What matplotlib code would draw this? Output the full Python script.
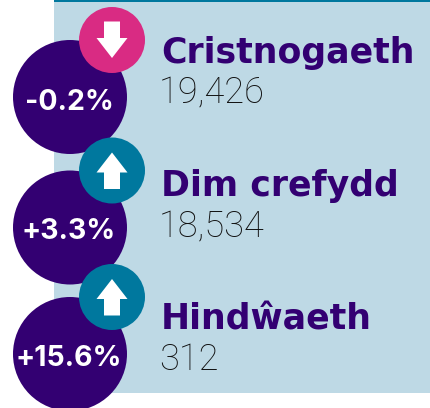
import matplotlib as mpl
mpl.use('Agg')
from matplotlib import pyplot as plt
from matplotlib.patches import Circle, Polygon, Rectangle

categories = ['Cristnogaeth', 'Dim crefydd', 'Hindŵaeth']
counts = ['19,426', '18,534', '312']
changes = ['-0.2%', '+3.3%', '+15.6%']
directions = ['down', 'up', 'up']

big_y = [97, 227.5, 354]
small_y = [40, 170.5, 297]
change_y = [110, 239, 366]
name_y = [62.5, 196, 330]
count_y = [103, 237, 370]

PURPLE = '#330072'
PINK = '#d92b83'
TEAL = '#00789e'
PANEL = '#bed9e5'
DARK = '#111111'

fig = plt.figure(figsize=(4.30, 4.08), dpi=100)
ax = fig.add_axes([0, 0, 1, 1])
ax.set_xlim(0, 430)
ax.set_ylim(408, 0)
ax.axis('off')

ax.add_patch(Rectangle((54, 0), 376, 393, color=PANEL, lw=0, zorder=1))
ax.add_patch(Rectangle((54, 0), 376, 2, color=TEAL, lw=0, zorder=2))

for i in range(len(categories)):
    ax.add_patch(Circle((70, big_y[i]), 57, color=PURPLE, lw=0, zorder=3))
    ax.text(69, change_y[i], changes[i], color='white', fontsize=20.5, fontweight='bold',
            family='Inter', ha='center', va='baseline', zorder=6)

for i in range(len(categories)):
    col = PINK if directions[i] == 'down' else TEAL
    cy = small_y[i]
    ax.add_patch(Circle((112, cy), 33, color=col, lw=0, zorder=4))
    s = 1 if directions[i] == 'up' else -1  # flip arrow for decreases
    pts = [(112, cy - 18 * s), (127.5, cy + 2 * s), (120, cy + 2 * s), (120, cy + 18.5 * s),
           (104, cy + 18.5 * s), (104, cy + 2 * s), (96.5, cy + 2 * s)]
    ax.add_patch(Polygon(pts, closed=True, color='white', lw=0, zorder=5))
    ax.text(161, name_y[i], categories[i], color=PURPLE, fontsize=25, fontweight='bold',
            family='DejaVu Sans', ha='left', va='baseline', zorder=6)
    ax.text(159, count_y[i], counts[i], color=DARK, fontsize=26, fontweight='light',
            family='Roboto', ha='left', va='baseline', zorder=6)

plt.savefig('out.png', dpi=100)
